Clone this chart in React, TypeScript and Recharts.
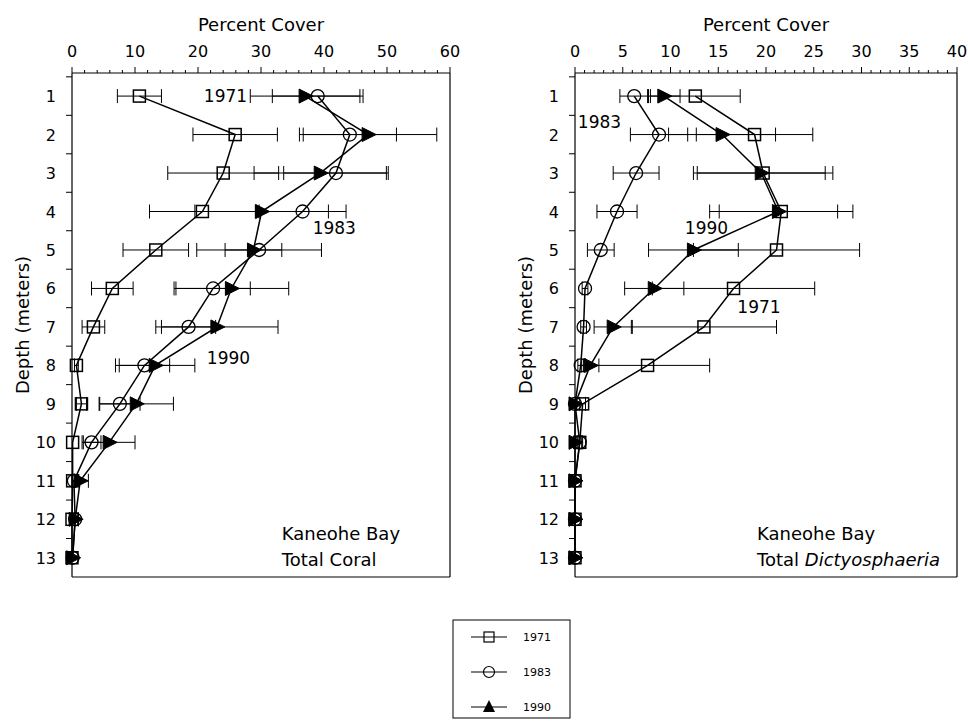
import React from 'react';
import { ScatterChart, Scatter, XAxis, YAxis, ErrorBar, ReferenceDot } from 'recharts';

const depths = [1, 2, 3, 4, 5, 6, 7, 8, 9, 10, 11, 12, 13];
const years = ['1971', '1983', '1990'];

// Total Coral (percent cover) by depth
const coral1971 = [10.7, 25.9, 24.0, 20.7, 13.3, 6.4, 3.4, 0.7, 1.5, 0.1, 0.1, 0, 0];
const coral1971Err = [3.5, 6.7, 8.8, 8.4, 5.2, 3.3, 1.8, 0.3, 0.8, 0, 0, 0, 0];
const coral1983 = [39.0, 44.1, 41.9, 36.6, 29.7, 22.4, 18.5, 11.5, 7.6, 3.1, 0.3, 0.5, 0.1];
const coral1983Err = [7.2, 7.4, 8.3, 6.9, 9.9, 5.9, 4.3, 4.0, 3.2, 1.5, 0.3, 0.5, 0];
const coral1990 = [37.0, 47.0, 39.4, 30.1, 28.8, 25.3, 23.0, 13.2, 10.2, 5.9, 1.3, 0.5, 0.1];
const coral1990Err = [8.7, 10.9, 10.5, 10.6, 4.5, 9.1, 9.7, 6.3, 5.9, 4.1, 1.3, 0.5, 0];

// Total Dictyosphaeria (percent cover) by depth
const dict1971 = [12.6, 18.8, 19.7, 21.6, 21.1, 16.6, 13.5, 7.6, 0.8, 0.5, 0, 0, 0];
const dict1971Err = [4.7, 6.1, 7.3, 7.5, 8.7, 8.5, 7.6, 6.5, 0.3, 0.3, 0, 0, 0];
const dict1983 = [6.2, 8.8, 6.4, 4.4, 2.7, 1.05, 0.9, 0.6, 0, 0.5, 0, 0, 0];
const dict1983Err = [1.5, 3.0, 2.4, 2.1, 1.4, 0.3, 0.3, 0.3, 0, 0.2, 0, 0, 0];
const dict1990 = [9.3, 15.4, 19.5, 21.3, 12.4, 8.3, 4.0, 1.6, 0, 0, 0, 0, 0];
const dict1990Err = [1.7, 5.6, 6.7, 6.2, 4.7, 3.1, 2.0, 0.9, 0, 0, 0, 0, 0];

const coralMajorTicks = [0, 10, 20, 30, 40, 50, 60];
const coralMinorStep = 2;
const dictMajorTicks = [0, 5, 10, 15, 20, 25, 30, 35, 40];
const dictMinorStep = 1;

const coralNotes = [
  { text: '1971', x: 27.8, y: 1, anchor: 'end' },
  { text: '1983', x: 38.2, y: 4.43, anchor: 'start' },
  { text: '1990', x: 21.4, y: 7.8, anchor: 'start' },
];
const dictNotes = [
  { text: '1983', x: 0.3, y: 1.68, anchor: 'start' },
  { text: '1990', x: 11.5, y: 4.43, anchor: 'start' },
  { text: '1971', x: 17.0, y: 6.48, anchor: 'start' },
];

const FONT = '"DejaVu Sans", "Liberation Sans", sans-serif';

const build = (vals: number[], errs: number[]) =>
  depths.map((d, i) => ({ depth: d, x: vals[i], err: errs[i] }));

const Square = (props: any) => {
  const { cx, cy } = props;
  if (cx == null || cy == null) return null;
  return <rect x={cx - 6} y={cy - 6} width={12} height={12} fill="none" stroke="#000" strokeWidth={1.5} />;
};
const Circ = (props: any) => {
  const { cx, cy } = props;
  if (cx == null || cy == null) return null;
  return <circle cx={cx} cy={cy} r={6.5} fill="none" stroke="#000" strokeWidth={1.3} />;
};
const TriRight = (props: any) => {
  const { cx, cy } = props;
  if (cx == null || cy == null) return null;
  return <path d={`M${cx - 6},${cy - 7}L${cx + 8},${cy}L${cx - 6},${cy + 7}Z`} fill="#000" stroke="#000" strokeWidth={1} />;
};

const shapes = [Square, Circ, TriRight];

const makeXTick = (majors: number[]) => (props: any) => {
  const { x, y, payload } = props;
  const v = payload.value;
  const isMajor = majors.some((m) => Math.abs(m - v) < 1e-6);
  return (
    <g>
      <line x1={x} x2={x} y1={y} y2={y - (isMajor ? 6 : 3)} stroke="#000" strokeWidth={1} />
      {isMajor && (
        <text x={x} y={y - 16} textAnchor="middle" fontFamily={FONT} fontSize={16} fill="#000">
          {v}
        </text>
      )}
    </g>
  );
};

const YTick = (props: any) => {
  const { x, y, payload } = props;
  const v = payload.value;
  if (Number.isInteger(v)) {
    return (
      <text x={x - 16} y={y + 6} textAnchor="end" fontFamily={FONT} fontSize={16} fill="#000">
        {v}
      </text>
    );
  }
  return <line x1={x} x2={x - 6} y1={y} y2={y} stroke="#000" strokeWidth={1} />;
};

const yTicks = depths.flatMap((d) => [d - 0.5, d]);

const minorTicks = (majors: number[], step: number) => {
  const out: number[] = [];
  const max = majors[majors.length - 1];
  for (let v = 0; v <= max + 1e-6; v += step) out.push(Math.round(v * 100) / 100);
  return out;
};

type PanelProps = {
  left: number;
  width: number;
  marginLeft: number;
  marginRight: number;
  maxX: number;
  majors: number[];
  step: number;
  series: { x: number; depth: number; err: number }[][];
  notes: { text: string; x: number; y: number; anchor: string }[];
  boxX: number;
  italic: boolean;
  subtitle: string;
};

const Panel = (p: PanelProps) => {
  const XTick = makeXTick(p.majors);
  return (
    <div style={{ position: 'absolute', left: p.left, top: 0 }}>
      <ScatterChart
        width={p.width}
        height={600}
        margin={{ top: 0, left: p.marginLeft, right: p.marginRight, bottom: 22 }}
      >
        <XAxis
          xAxisId="t"
          type="number"
          dataKey="x"
          orientation="top"
          domain={[0, p.maxX]}
          ticks={minorTicks(p.majors, p.step)}
          interval={0}
          tick={XTick}
          tickLine={false}
          tickSize={0}
          tickMargin={0}
          height={73}
          axisLine={{ stroke: '#000', strokeWidth: 1.2 }}
          label={{
            content: (lp: any) => {
              const vb = lp.viewBox;
              return (
                <text x={vb.x + vb.width / 2} y={31} textAnchor="middle" fontFamily={FONT} fontSize={18} fill="#000">
                  Percent Cover
                </text>
              );
            },
          }}
        />
        <XAxis
          xAxisId="b"
          type="number"
          orientation="bottom"
          domain={[0, p.maxX]}
          tick={false}
          tickLine={false}
          height={1}
          axisLine={{ stroke: '#000', strokeWidth: 1.2 }}
        />
        <YAxis
          yAxisId="l"
          type="number"
          dataKey="depth"
          domain={[0.4, 13.5]}
          reversed
          ticks={yTicks}
          interval={0}
          tick={YTick}
          tickLine={false}
          tickSize={0}
          tickMargin={0}
          width={60}
          axisLine={{ stroke: '#000', strokeWidth: 1.2 }}
          label={{
            content: (lp: any) => {
              const vb = lp.viewBox;
              const cx = vb.x + vb.width - 50;
              const cy = vb.y + vb.height / 2;
              return (
                <text
                  x={cx}
                  y={cy}
                  transform={`rotate(-90 ${cx} ${cy})`}
                  textAnchor="middle"
                  dominantBaseline="central"
                  fontFamily={FONT}
                  fontSize={18}
                  fill="#000"
                >
                  Depth (meters)
                </text>
              );
            },
          }}
        />
        <YAxis
          yAxisId="r"
          type="number"
          orientation="right"
          domain={[0.4, 13.5]}
          reversed
          tick={false}
          tickLine={false}
          width={1}
          axisLine={{ stroke: '#000', strokeWidth: 1.2 }}
        />
        {p.series.map((data, i) => (
          <Scatter
            key={years[i]}
            name={years[i]}
            xAxisId="t"
            yAxisId="l"
            data={data}
            line={{ stroke: '#000', strokeWidth: 1.5 }}
            shape={shapes[i]}
            isAnimationActive={false}
          >
            <ErrorBar dataKey="err" direction="x" width={7} stroke="#000" strokeWidth={1} />
          </Scatter>
        ))}
        {p.notes.map((n, i) => (
          <ReferenceDot
            key={'n' + i}
            xAxisId="t"
            yAxisId="l"
            x={n.x}
            y={n.y}
            r={0}
            fill="none"
            stroke="none"
            label={{
              content: (lp: any) => {
                const vb = lp.viewBox;
                return (
                  <text x={vb.x} y={vb.y + 6} textAnchor={n.anchor as any} fontFamily={FONT} fontSize={17} fill="#000">
                    {n.text}
                  </text>
                );
              },
            }}
          />
        ))}
        <ReferenceDot
          xAxisId="t"
          yAxisId="l"
          x={p.boxX}
          y={12.35}
          r={0}
          fill="none"
          stroke="none"
          label={{
            content: (lp: any) => {
              const vb = lp.viewBox;
              return (
                <text x={vb.x} y={vb.y + 7} fontFamily={FONT} fontSize={18} fill="#000">
                  Kaneohe Bay
                </text>
              );
            },
          }}
        />
        <ReferenceDot
          xAxisId="t"
          yAxisId="l"
          x={p.boxX}
          y={13.03}
          r={0}
          fill="none"
          stroke="none"
          label={{
            content: (lp: any) => {
              const vb = lp.viewBox;
              return (
                <text x={vb.x} y={vb.y + 7} fontFamily={FONT} fontSize={18} fill="#000">
                  Total{' '}
                  <tspan fontStyle={p.italic ? 'italic' : 'normal'}>{p.subtitle}</tspan>
                </text>
              );
            },
          }}
        />
      </ScatterChart>
    </div>
  );
};

const LegendBox = () => {
  const rows = years.map((y, i) => ({ y, cy: 18 + i * 35, i }));
  return (
    <svg width={120} height={103} style={{ position: 'absolute', left: 452, top: 619 }}>
      <rect x={1} y={1} width={117} height={98} fill="none" stroke="#000" strokeWidth={1} />
      {rows.map((r) => (
        <g key={r.y}>
          <line x1={19} x2={55} y1={r.cy} y2={r.cy} stroke="#000" strokeWidth={1.2} />
          {r.i === 0 && <rect x={32} y={r.cy - 5} width={10} height={10} fill="none" stroke="#000" strokeWidth={1.2} />}
          {r.i === 1 && <circle cx={37} cy={r.cy} r={5.5} fill="none" stroke="#000" strokeWidth={1.2} />}
          {r.i === 2 && <path d={`M${37 - 6},${r.cy + 5}L37,${r.cy - 7}L${37 + 6},${r.cy + 5}Z`} fill="#000" />}
          <text x={71} y={r.cy + 4} fontFamily={FONT} fontSize={11} fill="#000">
            {r.y}
          </text>
        </g>
      ))}
    </svg>
  );
};

export default function App() {
  const coralSeries = [
    build(coral1971, coral1971Err),
    build(coral1983, coral1983Err),
    build(coral1990, coral1990Err),
  ];
  const dictSeries = [
    build(dict1971, dict1971Err),
    build(dict1983, dict1983Err),
    build(dict1990, dict1990Err),
  ];
  return (
    <div style={{ position: 'absolute', left: 0, top: 0, width: 968, height: 723, background: '#fff' }}>
      <Panel
        left={0}
        width={480}
        marginLeft={12}
        marginRight={29}
        maxX={60}
        majors={coralMajorTicks}
        step={coralMinorStep}
        series={coralSeries}
        notes={coralNotes}
        boxX={33.3}
        italic={false}
        subtitle="Coral"
      />
      <Panel
        left={480}
        width={488}
        marginLeft={35}
        marginRight={10}
        maxX={40}
        majors={dictMajorTicks}
        step={dictMinorStep}
        series={dictSeries}
        notes={dictNotes}
        boxX={19.06}
        italic={true}
        subtitle="Dictyosphaeria"
      />
      <LegendBox />
    </div>
  );
}
